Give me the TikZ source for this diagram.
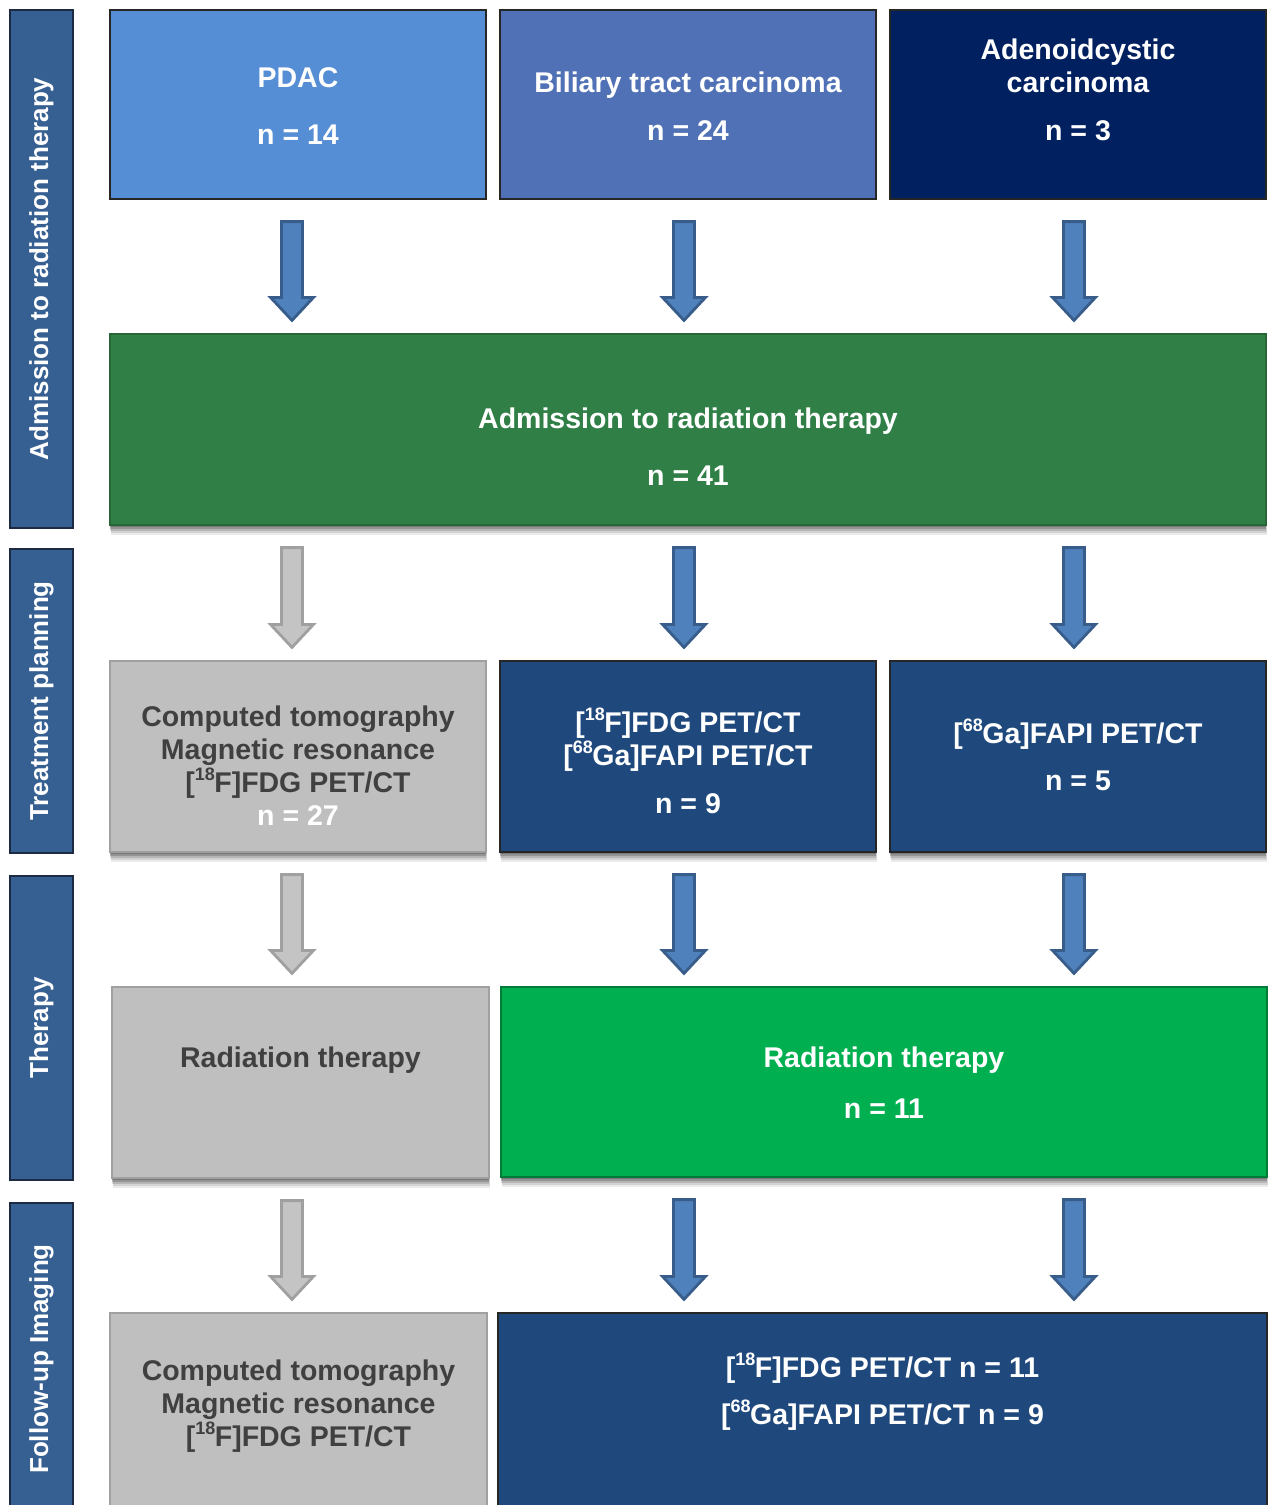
\documentclass[tikz,border=0pt]{standalone}
\usepackage{fontspec}
\setmainfont{Liberation Sans}
\usetikzlibrary{calc}
\definecolor{sidefill}{RGB}{55,96,146}
\definecolor{sidedraw}{RGB}{28,42,66}
\definecolor{pdacfill}{RGB}{85,142,213}
\definecolor{bilfill}{RGB}{80,113,181}
\definecolor{adefill}{RGB}{0,32,96}
\definecolor{dkblue}{RGB}{31,73,125}
\definecolor{grnA}{RGB}{48,127,70}
\definecolor{grnB}{RGB}{0,176,80}
\definecolor{grayfill}{RGB}{191,191,191}
\definecolor{graydraw}{RGB}{160,160,160}
\definecolor{graytext}{RGB}{64,64,64}
\definecolor{arrfill}{RGB}{79,129,189}
\definecolor{arrdraw}{RGB}{56,93,138}
\definecolor{garrfill}{RGB}{196,196,196}
\definecolor{garrdraw}{RGB}{160,160,160}
\newcommand\myiso[1]{\raisebox{0.42em}{\fontsize{18}{18}\selectfont #1}\kern-0.5pt}
\newcommand\downarr[4]{%
  \draw[#1] let \p1=($(#2.south -| #4)+(0,22)$), \p2=($(#3.north -| #4)+(0,-13)$) in
    (\x1-10.5pt,\y1) -- (\x1+10.5pt,\y1) -- (\x1+10.5pt,\y2+23pt) -- (\x1+21.5pt,\y2+23pt)
    -- (\x1,\y2) -- (\x1-21.5pt,\y2+23pt) -- (\x1-10.5pt,\y2+23pt) -- cycle;}
\begin{document}
\begin{tikzpicture}[x=1pt,y=-1pt,
  box/.style={rectangle, line width=1.2, inner sep=0pt},
  wtxt/.style={text=white, font=\bfseries\fontsize{28.5}{33}\selectfont, align=center, inner sep=0pt},
  gtxt/.style={wtxt, text=graytext},
  side/.style={rectangle, draw=sidedraw, fill=sidefill, line width=1.2, rotate=90,
     minimum height=63, inner sep=0pt, text=white, font=\bfseries\fontsize{26}{30}\selectfont},
  shad/.style={
     preaction={fill=black, opacity=0.08, transform canvas={yshift=-10pt, xshift=1pt}},
     preaction={fill=black, opacity=0.10, transform canvas={yshift=-8pt, xshift=1pt}},
     preaction={fill=black, opacity=0.14, transform canvas={yshift=-6pt}},
     preaction={fill=black, opacity=0.18, transform canvas={yshift=-4pt}},
     preaction={fill=black, opacity=0.20, transform canvas={yshift=-2pt}}},
  barr/.style={fill=arrfill, draw=arrdraw, line width=2.8, line join=miter},
  garr/.style={fill=garrfill, draw=garrdraw, line width=2.8, line join=miter}]
\useasboundingbox (0,0) rectangle (1272,1505);
\begin{scope}
\clip (0,0) rectangle (1272,1505);
% x guides for the arrow columns
\coordinate (c1) at (292,0);
\coordinate (c2) at (684,0);
\coordinate (c3) at (1074,0);
% side labels
\node[side, minimum width=518] (s1) at (41.5,269) {Admission to radiation therapy};
\node[side, minimum width=304] (s2) at (41.5,701) {Treatment planning};
\node[side, minimum width=304] (s3) at (41.5,1028) {Therapy};
\node[side, minimum width=312] (s4) at (41.5,1359) {Follow-up Imaging};
% row 1
\node[box, draw=black!85, fill=pdacfill, minimum width=376, minimum height=189] (pdac) at (298,104.5) {};
\node[box, draw=black!85, fill=bilfill, minimum width=376, minimum height=189] (bil) at (688,104.5) {};
\node[box, draw=black!85, fill=adefill, minimum width=376, minimum height=189] (ade) at (1078,104.5) {};
\node[wtxt] (pdac-t) at (298,106.5) {PDAC\\[24pt]n = 14};
\node[wtxt] (bil-t) at (688,106) {Biliary tract carcinoma\\[15pt]n = 24};
\node[wtxt] (ade-t) at (1078,89.5) {Adenoidcystic\\carcinoma\\[15pt]n = 3};
% admission box
\node[box, draw=grnA!80!black, fill=grnA, shad, minimum width=1156, minimum height=191] (adm) at (688,429.5) {};
\node[wtxt] (adm-t) at (688,446.5) {Admission to radiation therapy\\[24pt]n = 41};
% row 2
\node[box, draw=graydraw, fill=grayfill, shad, minimum width=376, minimum height=191] (tp1) at (298,756.5) {};
\node[box, draw=black!85, fill=dkblue, shad, minimum width=376, minimum height=191] (tp2) at (688,756.5) {};
\node[box, draw=black!85, fill=dkblue, shad, minimum width=376, minimum height=191] (tp3) at (1078,756.5) {};
\node[gtxt] (tp1-t) at (298,766) {Computed tomography\\Magnetic resonance\\{[}\myiso{18}F{]}FDG PET/CT\\\textcolor{white}{n = 27}};
\node[wtxt] (tp2-t) at (688,760.5) {{[}\myiso{18}F{]}FDG PET/CT\\{[}\myiso{68}Ga{]}FAPI PET/CT\\[15pt]n = 9};
\node[wtxt] (tp3-t) at (1078,754.5) {{[}\myiso{68}Ga{]}FAPI PET/CT\\[14pt]n = 5};
% row 3
\node[box, draw=graydraw, fill=grayfill, shad, minimum width=377, minimum height=191] (rt1) at (300.5,1082.5) {};
\node[box, draw=grnB!70!black, fill=grnB, shad, minimum width=766, minimum height=190] (rt2) at (884,1082) {};
\node[gtxt] (rt1-t) at (300.5,1060) {Radiation therapy};
\node[wtxt] (rt2-t) at (884,1082.5) {Radiation therapy\\[18pt]n = 11};
% row 4
\node[box, draw=graydraw, fill=grayfill, shad, minimum width=377, minimum height=200] (fu1) at (298.5,1413) {};
\node[box, draw=black!85, fill=dkblue, shad, minimum width=769, minimum height=200] (fu2) at (882.5,1413) {};
\node[gtxt] (fu1-t) at (298.5,1406) {Computed tomography\\Magnetic resonance\\{[}\myiso{18}F{]}FDG PET/CT};
\node[wtxt] (fu2-t) at (882.5,1391.5) {{[}\myiso{18}F{]}FDG PET/CT n = 11\\[14pt]{[}\myiso{68}Ga{]}FAPI PET/CT n = 9};
% arrows
\downarr{barr}{pdac}{adm}{c1}
\downarr{barr}{bil}{adm}{c2}
\downarr{barr}{ade}{adm}{c3}
\downarr{garr}{adm}{tp1}{c1}
\downarr{barr}{adm}{tp2}{c2}
\downarr{barr}{adm}{tp3}{c3}
\downarr{garr}{tp1}{rt1}{c1}
\downarr{barr}{tp2}{rt2}{c2}
\downarr{barr}{tp3}{rt2}{c3}
\downarr{garr}{rt1}{fu1}{c1}
\downarr{barr}{rt2}{fu2}{c2}
\downarr{barr}{rt2}{fu2}{c3}
\end{scope}
\end{tikzpicture}
\end{document}
